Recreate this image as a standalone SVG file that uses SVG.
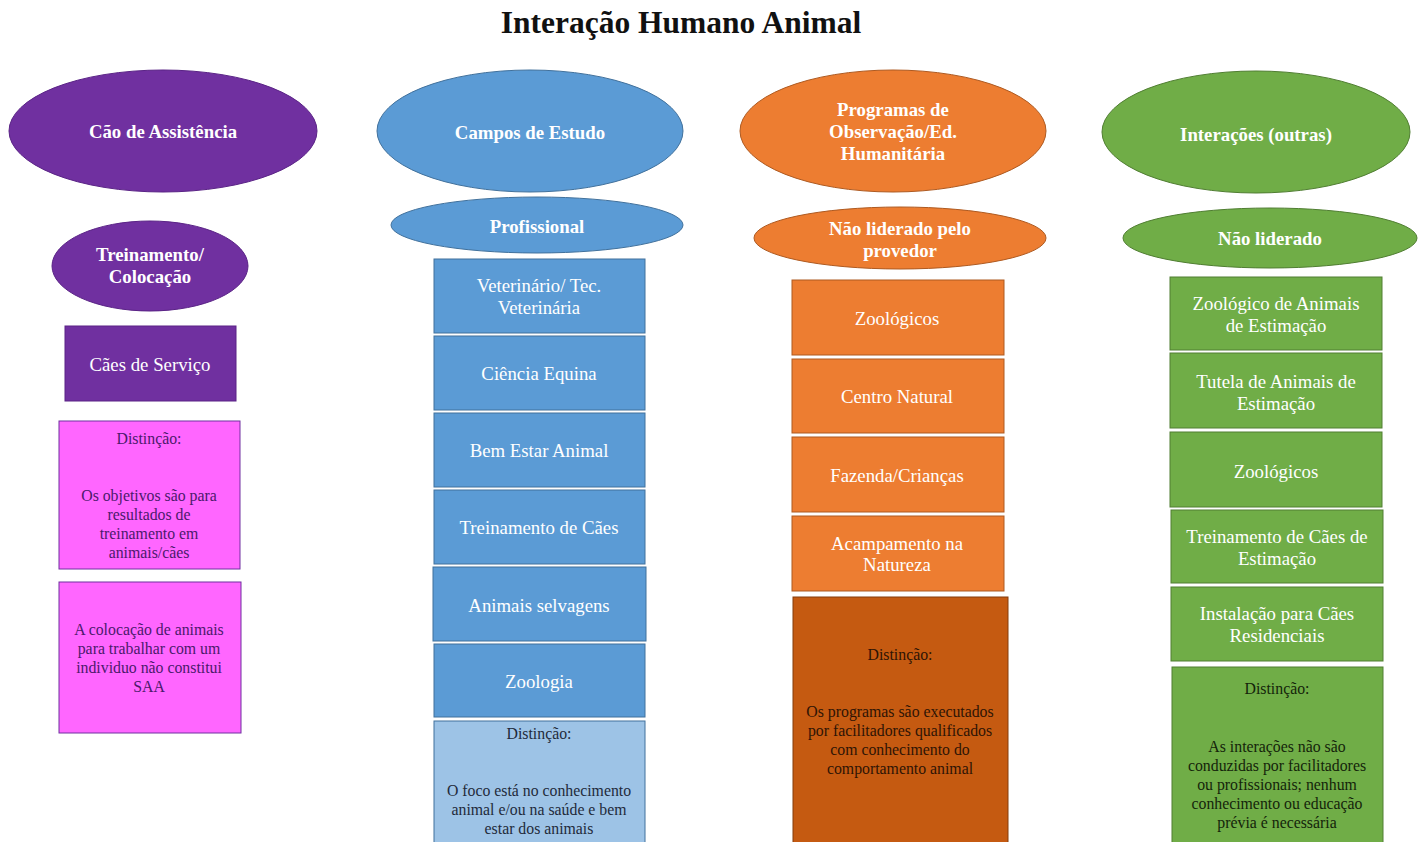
<svg xmlns="http://www.w3.org/2000/svg" width="1423" height="842" viewBox="0 0 1423 842">
<style>
text{font-family:"Liberation Serif","Times New Roman",serif;text-anchor:middle;dominant-baseline:central}
.title{font-size:31.5px;font-weight:bold;fill:#111}
.h{font-size:18.8px;font-weight:bold;fill:#fff}
.b{font-size:18.8px;fill:#fff}
.d{font-size:15.8px}
.pu{fill:#7030A0;stroke:#5a2386;stroke-width:1}
.bl{fill:#5B9BD5;stroke:#41719C;stroke-width:1}
.or{fill:#ED7D31;stroke:#AE5A21;stroke-width:1}
.gr{fill:#70AD47;stroke:#507E32;stroke-width:1}
.pk{fill:#FF66FF;stroke:#7030A0;stroke-width:1}
.lb{fill:#9DC3E6;stroke:#41719C;stroke-width:1}
.dor{fill:#C55A11;stroke:#843C0C;stroke-width:1}
</style>
<rect width="1423" height="842" fill="#fff"/>
<text class="title" x="681" y="22">Interação Humano Animal</text>

<g id="connectors"/>

<!-- Column 1 -->
<g id="cao-assistencia"><ellipse class="pu" cx="163" cy="131" rx="154" ry="61"/><text class="h" x="163" y="131">Cão de Assistência</text></g>
<g id="treinamento-colocacao"><ellipse class="pu" cx="150" cy="266" rx="98" ry="45"/><text class="h" x="150" y="254">Treinamento/</text><text class="h" x="150" y="276">Colocação</text></g>
<g id="caes-servico"><rect class="pu" x="65" y="326" width="171" height="75"/><text class="b" x="150" y="364">Cães de Serviço</text></g>
<g id="distincao-1" fill="#4B1A6B"><rect class="pk" x="59" y="421" width="181" height="148"/><text class="d" x="149" y="438">Distinção:</text><text class="d" x="149" y="495">Os objetivos são para</text><text class="d" x="149" y="514">resultados de</text><text class="d" x="149" y="533">treinamento em</text><text class="d" x="149" y="552">animais/cães</text></g>
<g id="saa-nota" fill="#4B1A6B"><rect class="pk" x="59" y="582" width="182" height="151"/><text class="d" x="149" y="629">A colocação de animais</text><text class="d" x="149" y="648">para trabalhar com um</text><text class="d" x="149" y="667">individuo não constitui</text><text class="d" x="149" y="686">SAA</text></g>

<!-- Column 2 -->
<g id="campos-estudo"><ellipse class="bl" cx="530" cy="131" rx="153" ry="61"/><text class="h" x="530" y="132">Campos de Estudo</text></g>
<g id="profissional"><ellipse class="bl" cx="537" cy="225" rx="146" ry="28"/><text class="h" x="537" y="226">Profissional</text></g>
<g id="veterinario"><rect class="bl" x="434" y="259" width="211" height="74"/><text class="b" x="539" y="285">Veterinário/ Tec.</text><text class="b" x="539" y="307">Veterinária</text></g>
<g id="ciencia-equina"><rect class="bl" x="434" y="336" width="211" height="74"/><text class="b" x="539" y="373">Ciência Equina</text></g>
<g id="bem-estar"><rect class="bl" x="434" y="413" width="211" height="74"/><text class="b" x="539" y="450">Bem Estar Animal</text></g>
<g id="treinamento-caes"><rect class="bl" x="434" y="490" width="211" height="74"/><text class="b" x="539" y="527">Treinamento de Cães</text></g>
<g id="animais-selvagens"><rect class="bl" x="433" y="567" width="213" height="74"/><text class="b" x="539" y="605">Animais selvagens</text></g>
<g id="zoologia"><rect class="bl" x="434" y="644" width="211" height="73"/><text class="b" x="539" y="681">Zoologia</text></g>
<g id="distincao-2" fill="#1F2A3A"><rect class="lb" x="434" y="721" width="211" height="130"/><text class="d" x="539" y="733">Distinção:</text><text class="d" x="539" y="790">O foco está no conhecimento</text><text class="d" x="539" y="809">animal e/ou na saúde e bem</text><text class="d" x="539" y="828">estar dos animais</text></g>

<!-- Column 3 -->
<g id="programas-observacao"><ellipse class="or" cx="893" cy="131" rx="153" ry="61"/><text class="h" x="893" y="109">Programas de</text><text class="h" x="893" y="131">Observação/Ed.</text><text class="h" x="893" y="153">Humanitária</text></g>
<g id="nao-liderado-provedor"><ellipse class="or" cx="900" cy="238" rx="146" ry="31"/><text class="h" x="900" y="228">Não liderado pelo</text><text class="h" x="900" y="250">provedor</text></g>
<g id="zoologicos-1"><rect class="or" x="792" y="280" width="212" height="75"/><text class="b" x="897" y="318">Zoológicos</text></g>
<g id="centro-natural"><rect class="or" x="792" y="359" width="212" height="74"/><text class="b" x="897" y="396">Centro Natural</text></g>
<g id="fazenda-criancas"><rect class="or" x="792" y="437" width="212" height="75"/><text class="b" x="897" y="475">Fazenda/Crianças</text></g>
<g id="acampamento"><rect class="or" x="792" y="516" width="212" height="75"/><text class="b" x="897" y="543">Acampamento na</text><text class="b" x="897" y="564">Natureza</text></g>
<g id="distincao-3" fill="#2E1405"><rect class="dor" x="793" y="597" width="215" height="254"/><text class="d" x="900" y="654">Distinção:</text><text class="d" x="900" y="711">Os programas são executados</text><text class="d" x="900" y="730">por facilitadores qualificados</text><text class="d" x="900" y="749">com conhecimento do</text><text class="d" x="900" y="768">comportamento animal</text></g>

<!-- Column 4 -->
<g id="interacoes-outras"><ellipse class="gr" cx="1256" cy="132" rx="154" ry="61"/><text class="h" x="1256" y="134">Interações (outras)</text></g>
<g id="nao-liderado"><ellipse class="gr" cx="1270" cy="238" rx="147" ry="30"/><text class="h" x="1270" y="238">Não liderado</text></g>
<g id="zoologico-estimacao"><rect class="gr" x="1170" y="277" width="212" height="73"/><text class="b" x="1276" y="303">Zoológico de Animais</text><text class="b" x="1276" y="325">de Estimação</text></g>
<g id="tutela"><rect class="gr" x="1170" y="353" width="212" height="75"/><text class="b" x="1276" y="381">Tutela de Animais de</text><text class="b" x="1276" y="403">Estimação</text></g>
<g id="zoologicos-2"><rect class="gr" x="1170" y="432" width="212" height="75"/><text class="b" x="1276" y="471">Zoológicos</text></g>
<g id="treinamento-estimacao"><rect class="gr" x="1171" y="510" width="212" height="73"/><text class="b" x="1277" y="536">Treinamento de Cães de</text><text class="b" x="1277" y="558">Estimação</text></g>
<g id="instalacao"><rect class="gr" x="1171" y="587" width="212" height="74"/><text class="b" x="1277" y="613">Instalação para Cães</text><text class="b" x="1277" y="635">Residenciais</text></g>
<g id="distincao-4" fill="#14240A"><rect class="gr" x="1172" y="667" width="211" height="184"/><text class="d" x="1277" y="688">Distinção:</text><text class="d" x="1277" y="746">As interações não são</text><text class="d" x="1277" y="765">conduzidas por facilitadores</text><text class="d" x="1277" y="784">ou profissionais; nenhum</text><text class="d" x="1277" y="803">conhecimento ou educação</text><text class="d" x="1277" y="822">prévia é necessária</text></g>
</svg>
